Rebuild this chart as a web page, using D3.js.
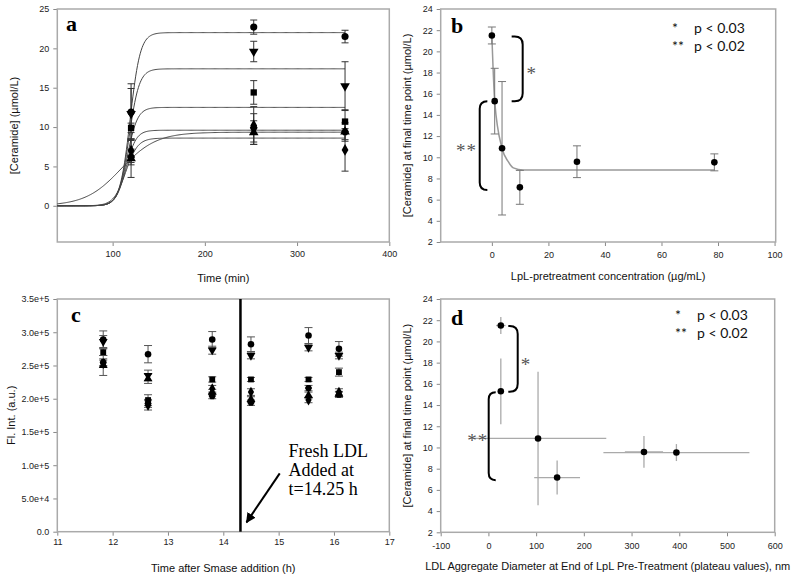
<!DOCTYPE html>
<html>
<head>
<meta charset="utf-8">
<script src="https://cdn.jsdelivr.net/npm/d3@7"></script>
<style>
body { margin: 0; background: #fff; }
</style>
</head>
<body>
<svg id="chart" width="800" height="577" font-family='"Liberation Sans", Arial, sans-serif'></svg>
<script>
// ---- panel a: ceramide vs time, six preparations ----
const timeMin = [120, 253, 352];
const cerCircle = [11.9, 22.7, 21.5],  cerCircleErr = [3.6, 0.9, 0.8];
const cerTriDown = [11.7, 19.6, 15.2], cerTriDownErr = [3.2, 1.3, 3.1];
const cerSquare = [9.9, 14.4, 10.7],   cerSquareErr = [0.6, 1.5, 1.5];
const cerDiamond = [7.0, 10.2, 7.1],   cerDiamondErr = [1.5, 2.4, 2.7];
const cerTriUp = [6.0, 9.3, 9.4],      cerTriUpErr = [2.4, 1.5, 1.2];
const cerHex = [6.2, 9.9, 9.4],        cerHexErr = [1.0, 1.8, 1.0];
// sigmoid fit parameters for the six curves
const fitPlateau = [22.0, 17.4, 12.5, 9.6, 8.6, 9.35];
const fitMid = [119, 117.8, 115.9, 114.5, 114.2, 109];
const fitWidth = [5.5, 5.5, 5.5, 5.5, 6.5, 19.2];

// ---- panel b: final ceramide vs LpL pretreatment ----
const lplConc = [0, 1.0, 3.6, 9.9, 30.1, 78.7];
const finalCer = [21.5, 15.3, 10.85, 7.16, 9.58, 9.52];
const finalCerErr = [0.8, 3.1, 6.3, 1.6, 1.5, 0.8];
const fitConc = [0, 1.0, 3.6, 5.8, 7.6, 11.1, 78.7];
const fitCer = [21.5, 15.3, 10.85, 9.58, 9.0, 8.8, 8.8];

// ---- panel c: fluorescence vs time after Smase ----
const hours = [11.83, 12.64, 13.8, 14.5, 15.54, 16.09];
const flCircle = [289000, 267000, 289000, 282000, 295000, 275000];
const flCircleErr = [13000, 13000, 12000, 11000, 12000, 11000];
const flTriDown = [286000, 235000, 273000, 265000, 277000, 265000];
const flTriDownErr = [9000, 8000, 6000, 5000, 5000, 5000];
const flSquare = [270000, 198000, 229000, 229000, 229000, 240000];
const flSquareErr = [5000, 8000, 4000, 3000, 3000, 6000];
const flDiamond = [253000, 190000, 215000, 210000, 198000, 210000];
const flDiamondErr = [5000, 7000, 5000, 5000, 4000, 5000];
const flTriUp = [250000, 230000, 210000, 199000, 205000, 207000];
const flTriUpErr = [15000, 7000, 4000, 4000, 5000, 4000];
const flHex = [255000, 193000, 204000, 194000, 216000, 206000];
const flHexErr = [5000, 6000, 4000, 4000, 4000, 4000];
const freshLdlAt = 14.31;

// ---- panel d: final ceramide vs aggregate diameter ----
const aggDiam = [26, 26, 104, 144, 326, 394];
const aggDiamErr = [10, 6, 143, 48, 40, 153];

const svg = d3.select('#chart');
const serif = '"Liberation Serif", "Times New Roman", serif';

const symbolHex = {
  draw(ctx, size) {
    const r = Math.sqrt(size * 2 / (3 * Math.sqrt(3)));
    for (let i = 0; i < 6; i++) {
      const a = Math.PI / 3 * i;
      if (i === 0) ctx.moveTo(r * Math.cos(a), r * Math.sin(a));
      else ctx.lineTo(r * Math.cos(a), r * Math.sin(a));
    }
    ctx.closePath();
  }
};
const shapes = {
  circle: d3.symbolCircle, triDown: d3.symbolTriangle, square: d3.symbolSquare,
  diamond: d3.symbolDiamond, triUp: d3.symbolTriangle, hexagon: symbolHex
};

function panel(box, xDomain, yDomain) {
  let x = d3.scaleLinear().domain(xDomain).range([box.left, box.right]);
  let y = d3.scaleLinear().domain(yDomain).range([box.bottom, box.top]);
  let g = svg.append('g');
  return { x, y, g, box };
}

function axes(p, o) {
  let b = p.box;
  let xa = d3.axisBottom(p.x).tickValues(o.xTicks).tickSize(4).tickSizeOuter(0)
    .tickPadding(o.xPad).tickFormat(o.xFmt || (d => String(d)));
  let ya = d3.axisLeft(p.y).tickValues(o.yTicks).tickSize(4).tickSizeOuter(0)
    .tickPadding(4).tickFormat(o.yFmt || (d => String(d)));
  [p.g.append('g').attr('transform', 'translate(0,' + b.bottom + ')').call(xa),
   p.g.append('g').attr('transform', 'translate(' + b.left + ',0)').call(ya)]
    .forEach(s => {
      s.select('.domain').remove();
      s.attr('font-family', '"Liberation Sans", Arial, sans-serif').attr('font-size', 9);
      s.selectAll('line').attr('stroke', '#888');
      s.selectAll('text').attr('fill', '#222');
    });
  p.g.append('rect')
    .attr('x', b.left).attr('y', b.top)
    .attr('width', b.right - b.left).attr('height', b.bottom - b.top)
    .attr('fill', 'none').attr('stroke', '#aaa').attr('stroke-width', 1.5);
  p.g.append('text')
    .attr('x', (b.left + b.right) / 2).attr('y', o.xTitleY)
    .attr('text-anchor', 'middle').attr('font-size', 11).attr('fill', '#111')
    .text(o.xTitle);
  p.g.append('text')
    .attr('transform', 'rotate(-90)')
    .attr('x', -(b.top + b.bottom) / 2).attr('y', o.yTitleX)
    .attr('dy', '0.35em')
    .attr('text-anchor', 'middle').attr('font-size', 11).attr('fill', '#111')
    .text(o.yTitle);
  p.g.append('text')
    .attr('x', o.letterX).attr('y', o.letterY)
    .attr('font-family', serif)
    .attr('font-weight', 'bold').attr('font-size', 22)
    .text(o.letter);
}

function marker(g, shape, size, px, py) {
  g.append('path')
    .attr('d', d3.symbol(shapes[shape], size)())
    .attr('transform', 'translate(' + px + ',' + py + ')' + (shape === 'triDown' ? ' rotate(180)' : ''))
    .attr('fill', '#000');
}

function vErr(g, px, y0, y1, cap, color, w) {
  g.append('line').attr('x1', px).attr('x2', px).attr('y1', y0).attr('y2', y1)
    .attr('stroke', color).attr('stroke-width', w);
  if (cap) {
    [y0, y1].forEach(yy => g.append('line')
      .attr('x1', px - cap / 2).attr('x2', px + cap / 2).attr('y1', yy).attr('y2', yy)
      .attr('stroke', color).attr('stroke-width', w));
  }
}

function hErr(g, py, x0, x1, color, w) {
  g.append('line').attr('x1', x0).attr('x2', x1).attr('y1', py).attr('y2', py)
    .attr('stroke', color).attr('stroke-width', w);
}

// bracket: ends at xEnd, spine at xSpine, from yTop to yBot (pixels)
function bracket(g, xEnd, xSpine, yTop, yBot) {
  let s = xSpine > xEnd ? 1 : -1;
  let r = Math.min(8, Math.abs(xSpine - xEnd));
  let path = d3.path();
  path.moveTo(xEnd, yTop);
  path.lineTo(xSpine - s * r, yTop);
  path.quadraticCurveTo(xSpine, yTop, xSpine, yTop + r);
  path.lineTo(xSpine, yBot - r);
  path.quadraticCurveTo(xSpine, yBot, xSpine - s * r, yBot);
  path.lineTo(xEnd, yBot);
  g.append('path').attr('d', path.toString())
    .attr('fill', 'none').attr('stroke', '#000').attr('stroke-width', 2);
}

function starText(g, px, py, str) {
  g.append('text').attr('x', px).attr('y', py).attr('dy', '0.6em')
    .attr('text-anchor', 'middle')
    .attr('font-family', serif)
    .attr('font-size', 19).attr('fill', '#555').attr('letter-spacing', 1)
    .text(str);
}

function legend(g, px, py) {
  [['*', 'p < 0.03'], ['**', 'p < 0.02']].forEach((r, i) => {
    g.append('text').attr('x', px).attr('y', py + i * 18)
      .attr('font-family', 'Lato, "Open Sans", sans-serif').attr('font-size', 14)
      .attr('fill', '#111').text(r[0]);
    g.append('text').attr('x', px + 22).attr('y', py + i * 18)
      .attr('font-family', 'Lato, "Open Sans", sans-serif').attr('font-size', 14)
      .attr('fill', '#111').text(r[1]);
  });
}

// ================= panel a =================
let pa = panel({ left: 57.3, right: 389.3, top: 9, bottom: 242 }, [40, 400], [-4.6, 25]);
axes(pa, {
  xTicks: [100, 200, 300, 400], yTicks: [0, 5, 10, 15, 20, 25], xPad: 5,
  xTitle: 'Time (min)', xTitleY: 282,
  yTitle: '[Ceramide] (\u00b5mol/L)', yTitleX: 14,
  letter: 'a', letterX: 66, letterY: 30.5
});

let fitLine = d3.line().x(d => pa.x(d[0])).y(d => pa.y(d[1]));
fitPlateau.forEach((A, i) => {
  let pts = d3.range(40, 352.5, 1).map(t => [t, A / (1 + Math.exp(-(t - fitMid[i]) / fitWidth[i]))]);
  pa.g.append('path').attr('d', fitLine(pts))
    .attr('fill', 'none').attr('stroke', '#444').attr('stroke-width', 1);
});

let aSeries = [
  ['circle', cerCircle, cerCircleErr], ['triDown', cerTriDown, cerTriDownErr],
  ['square', cerSquare, cerSquareErr], ['diamond', cerDiamond, cerDiamondErr],
  ['triUp', cerTriUp, cerTriUpErr], ['hexagon', cerHex, cerHexErr]
];
aSeries.forEach(s => s[1].forEach((v, j) =>
  vErr(pa.g, pa.x(timeMin[j]), pa.y(v - s[2][j]), pa.y(v + s[2][j]), 7, '#333', 1)));
aSeries.forEach(s => s[1].forEach((v, j) =>
  marker(pa.g, s[0], 40, pa.x(timeMin[j]), pa.y(v))));

// ================= panel b =================
let pb = panel({ left: 440.7, right: 775.7, top: 9, bottom: 242 }, [-18.1, 100.4], [2, 24]);
axes(pb, {
  xTicks: [0, 20, 40, 60, 80, 100], yTicks: d3.range(2, 25, 2), xPad: 6,
  xTitle: 'LpL-pretreatment concentration (\u00b5g/mL)', xTitleY: 280,
  yTitle: '[Ceramide] at final time point (\u00b5mol/L)', yTitleX: 407,
  letter: 'b', letterX: 451, letterY: 33
});
pb.g.append('path')
  .attr('d', d3.line().x((d, i) => pb.x(fitConc[i])).y(d => pb.y(d)).curve(d3.curveMonotoneX)(fitCer))
  .attr('fill', 'none').attr('stroke', '#999').attr('stroke-width', 1.5);
lplConc.forEach((c, i) =>
  vErr(pb.g, pb.x(c), pb.y(finalCer[i] - finalCerErr[i]), pb.y(finalCer[i] + finalCerErr[i]), 8, '#777', 1));
lplConc.forEach((c, i) => marker(pb.g, 'circle', 34, pb.x(c), pb.y(finalCer[i])));
bracket(pb.g, pb.x(7.0), pb.x(10.9), pb.y(21.4), pb.y(15.3));
bracket(pb.g, pb.x(-1.6), pb.x(-4.3), pb.y(15.3), pb.y(6.9));
starText(pb.g, pb.x(14.1), pb.y(18.4), '*');
starText(pb.g, pb.x(-9.0), pb.y(11.1), '**');
legend(pb.g, 672, 33);

// ================= panel c =================
let pc = panel({ left: 57.3, right: 389.3, top: 299, bottom: 531.7 }, [11, 17], [0, 350000]);
axes(pc, {
  xTicks: d3.range(11, 18), yTicks: d3.range(0, 350001, 50000), xPad: 3,
  yFmt: v => v === 0 ? '0.0' : d3.format('.1e')(v),
  xTitle: 'Time after Smase addition (h)', xTitleY: 572,
  yTitle: 'Fl. Int. (a.u.)', yTitleX: 11,
  letter: 'c', letterX: 71, letterY: 321.5
});
let cSeries = [
  ['circle', flCircle, flCircleErr], ['triDown', flTriDown, flTriDownErr],
  ['square', flSquare, flSquareErr], ['diamond', flDiamond, flDiamondErr],
  ['triUp', flTriUp, flTriUpErr], ['hexagon', flHex, flHexErr]
];
cSeries.forEach(s => s[1].forEach((v, j) =>
  vErr(pc.g, pc.x(hours[j]), pc.y(v - s[2][j]), pc.y(v + s[2][j]), 8, '#555', 1)));
cSeries.forEach(s => s[1].forEach((v, j) =>
  marker(pc.g, s[0], 34, pc.x(hours[j]), pc.y(v))));
pc.g.append('line')
  .attr('x1', pc.x(freshLdlAt)).attr('x2', pc.x(freshLdlAt))
  .attr('y1', pc.box.top).attr('y2', pc.box.bottom)
  .attr('stroke', '#000').attr('stroke-width', 2.5);

svg.append('defs').append('marker')
  .attr('id', 'head').attr('viewBox', '0 0 10 10').attr('refX', 9).attr('refY', 5)
  .attr('markerWidth', 5).attr('markerHeight', 5).attr('orient', 'auto')
  .append('path').attr('d', 'M0,0L10,5L0,10z').attr('fill', '#000');
pc.g.append('line')
  .attr('x1', pc.x(15.02)).attr('y1', pc.y(87800))
  .attr('x2', pc.x(14.42)).attr('y2', pc.y(14100))
  .attr('stroke', '#000').attr('stroke-width', 2).attr('marker-end', 'url(#head)');
['Fresh LDL', 'Added at', 't=14.25 h'].forEach((t, i) =>
  pc.g.append('text').attr('x', 288.5).attr('y', 456.5 + i * 19)
    .attr('font-family', serif)
    .attr('font-size', 18).attr('fill', '#000').text(t));

// ================= panel d =================
let pd = panel({ left: 440.7, right: 774.7, top: 299, bottom: 532.3 }, [-100, 600], [2, 24]);
axes(pd, {
  xTicks: d3.range(-100, 601, 100), yTicks: d3.range(2, 25, 2), xPad: 6,
  xTitle: 'LDL Aggregate Diameter at End of LpL Pre-Treatment (plateau values), nm', xTitleY: 570,
  yTitle: '[Ceramide] at final time point (\u00b5mol/L)', yTitleX: 407,
  letter: 'd', letterX: 451, letterY: 325
});
aggDiam.forEach((dv, i) => {
  vErr(pd.g, pd.x(dv), pd.y(finalCer[i] - finalCerErr[i]), pd.y(finalCer[i] + finalCerErr[i]), 0, '#aaa', 1.3);
  hErr(pd.g, pd.y(finalCer[i]), pd.x(dv - aggDiamErr[i]), pd.x(dv + aggDiamErr[i]), '#aaa', 1.3);
});
aggDiam.forEach((dv, i) => marker(pd.g, 'circle', 34, pd.x(dv), pd.y(finalCer[i])));
bracket(pd.g, pd.x(41.7), pd.x(61.4), pd.y(21.45), pd.y(15.26));
bracket(pd.g, pd.x(15.3), pd.x(0.6), pd.y(15.2), pd.y(6.92));
starText(pd.g, pd.x(78.8), pd.y(18.3), '*');
starText(pd.g, pd.x(-22.4), pd.y(11.1), '**');
legend(pd.g, 675, 320);
</script>
</body>
</html>
